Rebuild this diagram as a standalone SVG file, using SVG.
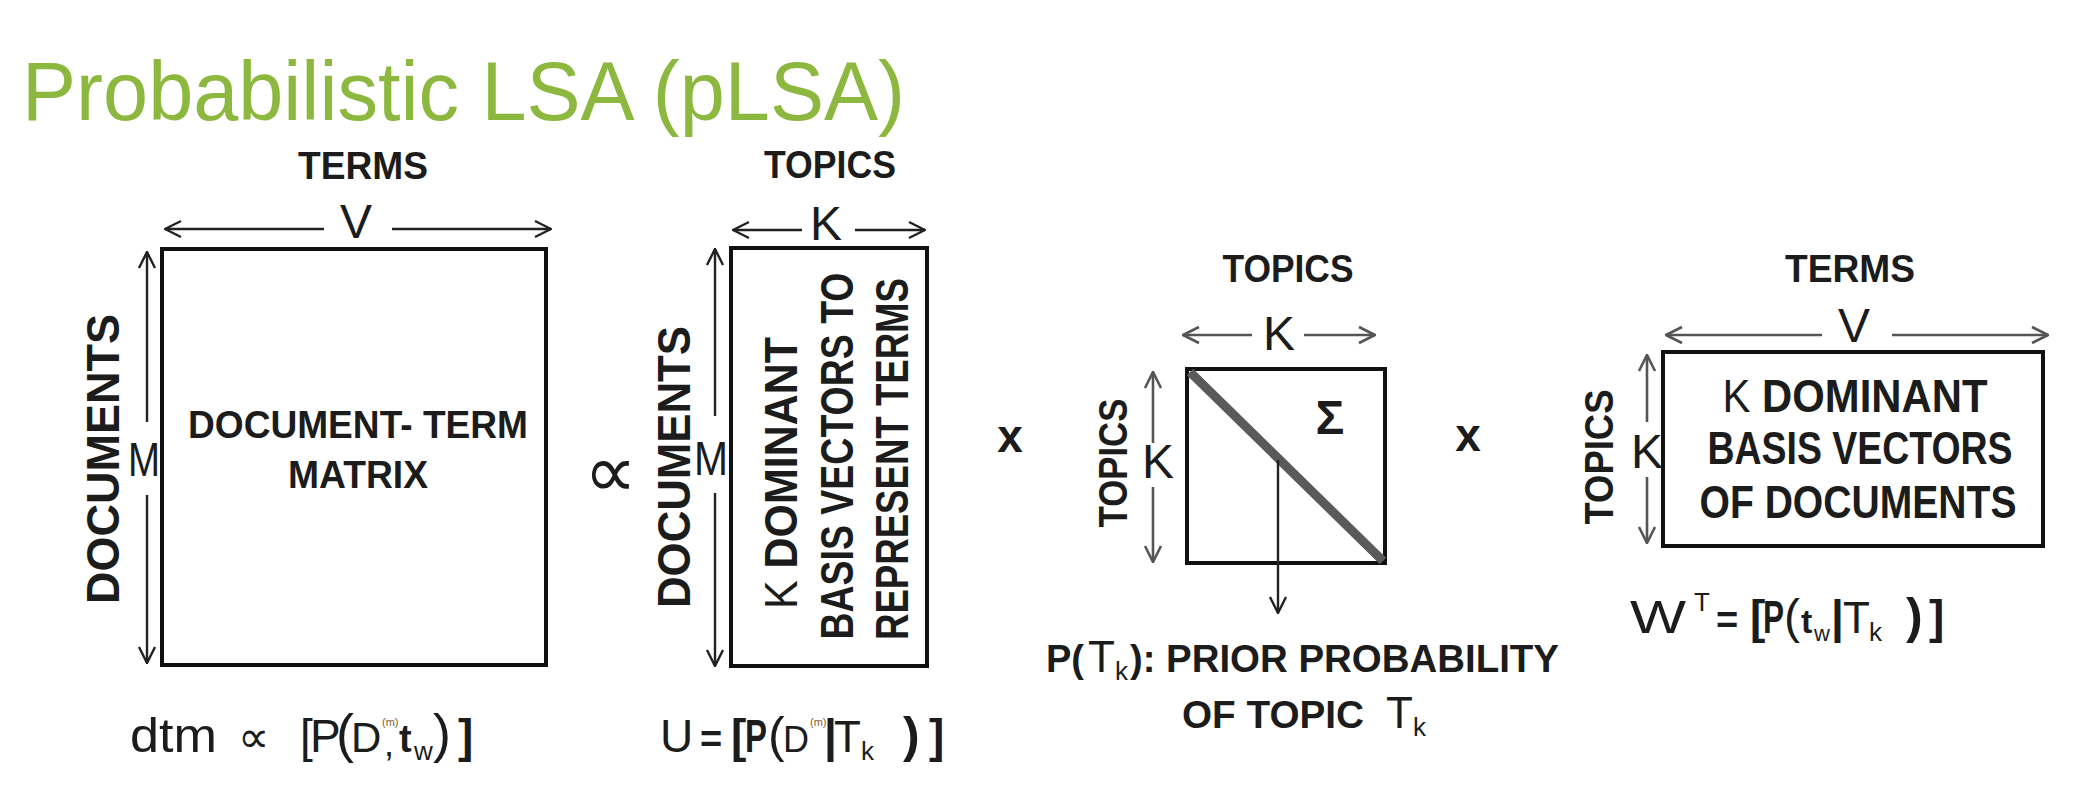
<svg xmlns="http://www.w3.org/2000/svg" width="2088" height="796" viewBox="0 0 2088 796">
<defs>
<style>
text{font-family:"Liberation Sans",Arial,sans-serif;fill:#1c1c1c}
.b{font-weight:bold}
.lbl{font-weight:bold;font-size:38px}
.dim{font-size:48px}
.box{fill:none;stroke:#111;stroke-width:4}
.arr{stroke:#222;stroke-width:2.4;fill:none}
.arrg{stroke:#555;stroke-width:2.6;fill:none}
.title{font-size:84px;fill:#8db83f}
</style>
<marker id="ah" viewBox="0 0 20 20" refX="19" refY="10" markerWidth="20" markerHeight="20" markerUnits="userSpaceOnUse" orient="auto">
<path d="M3,2 L19,10 L3,18" fill="none" stroke="#222" stroke-width="2.4"/>
</marker>
<marker id="ahg" viewBox="0 0 20 20" refX="19" refY="10" markerWidth="20" markerHeight="20" markerUnits="userSpaceOnUse" orient="auto">
<path d="M3,2 L19,10 L3,18" fill="none" stroke="#555" stroke-width="2.6"/>
</marker>
</defs>
<rect width="2088" height="796" fill="#fff"/>
<text id="title" class="title" x="22" y="120" textLength="883" lengthAdjust="spacingAndGlyphs">Probabilistic LSA (pLSA)</text>

<g id="node-dtm">
<rect class="box" x="162" y="249" width="384" height="416"/>
<text class="lbl" x="363" y="179" text-anchor="middle" textLength="130" lengthAdjust="spacingAndGlyphs">TERMS</text>
<text class="dim" x="356" y="238" text-anchor="middle">V</text>
<text class="dim" x="144" y="476" text-anchor="middle" textLength="32" lengthAdjust="spacingAndGlyphs">M</text>
<text class="b" font-size="46" transform="translate(119,459) rotate(-90)" text-anchor="middle" textLength="290" lengthAdjust="spacingAndGlyphs">DOCUMENTS</text>
<text class="lbl" x="358" y="438" text-anchor="middle" textLength="340" lengthAdjust="spacingAndGlyphs">DOCUMENT- TERM</text>
<text class="lbl" x="358" y="488" text-anchor="middle" textLength="140" lengthAdjust="spacingAndGlyphs">MATRIX</text>
<text font-size="48" y="752"><tspan x="130" textLength="87" lengthAdjust="spacingAndGlyphs">dtm</tspan></text>
<text font-family="DejaVu Sans" font-size="44" x="238" y="752">∝</text>
<text font-size="46" y="752"><tspan x="300">[</tspan><tspan x="310">P</tspan><tspan x="336" font-size="54">(</tspan><tspan x="351" font-size="42">D</tspan><tspan x="382" y="726" font-size="11" fill="#8a5a2a">(m)</tspan><tspan x="384" y="756" font-size="36">,</tspan><tspan x="399" y="752" font-size="38" class="b">t</tspan><tspan x="414" y="760" font-size="26">w</tspan><tspan x="433" y="752" font-size="54">)</tspan><tspan x="458" class="b">]</tspan></text>
</g>

<g id="node-U">
<rect class="box" x="731" y="248" width="196" height="418"/>
<text class="lbl" x="830" y="178" text-anchor="middle" textLength="132" lengthAdjust="spacingAndGlyphs">TOPICS</text>
<text class="dim" x="826" y="240" text-anchor="middle">K</text>
<text class="dim" x="711" y="475" text-anchor="middle" textLength="34" lengthAdjust="spacingAndGlyphs">M</text>
<text class="b" font-size="46" transform="translate(690,467) rotate(-90)" text-anchor="middle" textLength="282" lengthAdjust="spacingAndGlyphs">DOCUMENTS</text>
<text class="b" font-size="46" transform="translate(797,473) rotate(-90)" text-anchor="middle" textLength="272" lengthAdjust="spacingAndGlyphs"><tspan font-weight="normal">K</tspan> DOMINANT</text>
<text class="b" font-size="46" transform="translate(853,456) rotate(-90)" text-anchor="middle" textLength="367" lengthAdjust="spacingAndGlyphs">BASIS VECTORS TO</text>
<text class="b" font-size="46" transform="translate(908,459) rotate(-90)" text-anchor="middle" textLength="362" lengthAdjust="spacingAndGlyphs">REPRESENT TERMS</text>
<text font-size="46" y="752"><tspan x="660">U</tspan><tspan x="700" class="b" font-size="38">=</tspan><tspan x="731" class="b">[</tspan><tspan x="745" class="b" textLength="22" lengthAdjust="spacingAndGlyphs">P</tspan><tspan x="768" font-size="50">(</tspan><tspan x="783" font-size="36">D</tspan><tspan x="810" y="726" font-size="11" fill="#8a5a2a">(m)</tspan><tspan x="824" y="752" class="b">|</tspan><tspan x="834" font-size="44">T</tspan><tspan x="861" y="760" font-size="26">k</tspan><tspan x="903" y="752" class="b" font-size="50">)</tspan><tspan x="929" class="b">]</tspan></text>
</g>

<g id="op-prop"><text font-family="DejaVu Sans" font-size="74" x="584" y="497">∝</text></g>
<g id="op-x1"><text class="b" font-size="46" x="1010" y="452" text-anchor="middle">x</text></g>
<g id="op-x2"><text class="b" font-size="46" x="1468" y="451" text-anchor="middle">x</text></g>

<g id="node-sigma">
<rect class="box" x="1187" y="369" width="198" height="194" stroke-width="3.5"/>
<line x1="1190" y1="372" x2="1383" y2="561" stroke="#5a5a5a" stroke-width="9"/>
<text class="b" font-size="48" x="1330" y="434" text-anchor="middle">Σ</text>
<text class="lbl" x="1288" y="282" text-anchor="middle" textLength="131" lengthAdjust="spacingAndGlyphs">TOPICS</text>
<text class="dim" x="1279" y="350" text-anchor="middle">K</text>
<text class="dim" x="1158" y="478" text-anchor="middle">K</text>
<text class="b" font-size="40" transform="translate(1127,463) rotate(-90)" text-anchor="middle" textLength="129" lengthAdjust="spacingAndGlyphs">TOPICS</text>
<text y="672"><tspan x="1046" class="b" font-size="38">P(</tspan><tspan x="1088" font-size="44">T</tspan><tspan x="1115" y="680" font-size="26">k</tspan><tspan x="1130" y="672" class="b" font-size="38">):</tspan><tspan x="1166" class="b" font-size="38" textLength="393" lengthAdjust="spacingAndGlyphs">PRIOR PROBABILITY</tspan></text>
<text y="728"><tspan x="1182" class="b" font-size="38" textLength="182" lengthAdjust="spacingAndGlyphs">OF TOPIC</tspan><tspan x="1386" font-size="44">T</tspan><tspan x="1413" y="736" font-size="26">k</tspan></text>
</g>

<g id="node-WT">
<rect class="box" x="1663" y="352" width="380" height="194"/>
<text class="lbl" x="1850" y="282" text-anchor="middle" textLength="130" lengthAdjust="spacingAndGlyphs">TERMS</text>
<text class="dim" x="1854" y="342" text-anchor="middle">V</text>
<text class="dim" x="1647" y="468" text-anchor="middle">K</text>
<text class="b" font-size="40" transform="translate(1613,457) rotate(-90)" text-anchor="middle" textLength="135" lengthAdjust="spacingAndGlyphs">TOPICS</text>
<text class="b" font-size="46" x="1855" y="412" text-anchor="middle" textLength="265" lengthAdjust="spacingAndGlyphs"><tspan font-weight="normal">K</tspan> DOMINANT</text>
<text class="b" font-size="46" x="1860" y="464" text-anchor="middle" textLength="305" lengthAdjust="spacingAndGlyphs">BASIS  VECTORS</text>
<text class="b" font-size="46" x="1858" y="518" text-anchor="middle" textLength="317" lengthAdjust="spacingAndGlyphs">OF DOCUMENTS</text>
<text font-size="46" y="633"><tspan x="1630" textLength="56" lengthAdjust="spacingAndGlyphs">W</tspan><tspan x="1694" y="611" font-size="26">T</tspan><tspan x="1716" y="633" class="b" font-size="38">=</tspan><tspan x="1750" class="b">[</tspan><tspan x="1763" class="b" textLength="21" lengthAdjust="spacingAndGlyphs">P</tspan><tspan x="1784" font-size="48">(</tspan><tspan x="1801" font-size="34" class="b">t</tspan><tspan x="1814" y="641" font-size="22">w</tspan><tspan x="1831" y="633" class="b">|</tspan><tspan x="1843" font-size="44">T</tspan><tspan x="1869" y="641" font-size="26">k</tspan><tspan x="1906" y="633" class="b" font-size="50">)</tspan><tspan x="1929" class="b">]</tspan></text>
</g>

<g id="connectors">
<line class="arr" x1="324" y1="229" x2="165" y2="229" marker-end="url(#ah)"/>
<line class="arr" x1="392" y1="229" x2="551" y2="229" marker-end="url(#ah)"/>
<line class="arr" x1="147" y1="422" x2="147" y2="252" marker-end="url(#ah)"/>
<line class="arr" x1="147" y1="495" x2="147" y2="663" marker-end="url(#ah)"/>
<line class="arr" x1="802" y1="230" x2="733" y2="230" marker-end="url(#ah)"/>
<line class="arr" x1="855" y1="230" x2="925" y2="230" marker-end="url(#ah)"/>
<line class="arr" x1="715" y1="416" x2="715" y2="249" marker-end="url(#ah)"/>
<line class="arr" x1="715" y1="493" x2="715" y2="666" marker-end="url(#ah)"/>
<line class="arrg" x1="1252" y1="335" x2="1183" y2="335" marker-end="url(#ahg)"/>
<line class="arrg" x1="1304" y1="335" x2="1375" y2="335" marker-end="url(#ahg)"/>
<line class="arrg" x1="1153" y1="443" x2="1153" y2="372" marker-end="url(#ahg)"/>
<line class="arrg" x1="1153" y1="487" x2="1153" y2="562" marker-end="url(#ahg)"/>
<line class="arr" x1="1278" y1="460" x2="1278" y2="613" marker-end="url(#ah)"/>
<line class="arrg" x1="1822" y1="335" x2="1666" y2="335" marker-end="url(#ahg)"/>
<line class="arrg" x1="1892" y1="335" x2="2048" y2="335" marker-end="url(#ahg)"/>
<line class="arrg" x1="1647" y1="422" x2="1647" y2="355" marker-end="url(#ahg)"/>
<line class="arrg" x1="1647" y1="477" x2="1647" y2="543" marker-end="url(#ahg)"/>
</g>
</svg>
